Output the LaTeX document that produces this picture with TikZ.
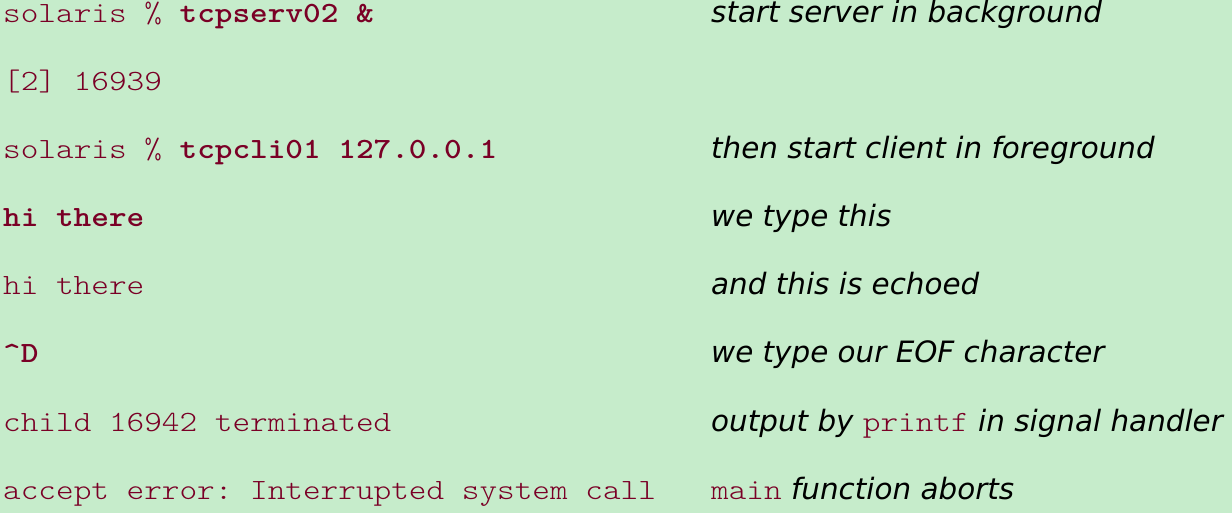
\documentclass[tikz,border=0pt]{standalone}
\usepackage{fontspec}
\setmainfont{DejaVu Sans}
\setmonofont{Latin Modern Mono Light}[FakeStretch=1.143]
\usetikzlibrary{positioning}
\definecolor{termbg}{HTML}{C6ECCB}
\definecolor{termfg}{HTML}{7A0026}
\newcommand{\kw}[1]{{\fontsize{29.4}{30}\upshape\ttfamily\color{termfg}#1}}
\newcommand{\typed}[1]{\textbf{#1}}

\begin{document}
\begin{tikzpicture}[x=1pt,y=1pt,
    term/.style={anchor=base west, inner sep=0pt, font=\fontsize{29.4}{30}\ttfamily, text=termfg},
    note/.style={anchor=base west, inner sep=0pt, font=\fontsize{29.4}{30}\itshape}]
  \fill[termbg] (0,0) rectangle (1232,513);
  % terminal session
  \node[term] (serv)  at (3,490) {solaris \% \typed{tcpserv02 \&}};
  \node[term] (pid)   at (3,422) {[2] 16939};
  \node[term] (cli)   at (3,354) {solaris \% \typed{tcpcli01 127.0.0.1}};
  \node[term] (hi)    at (3,286) {\typed{hi there}};
  \node[term] (echo)  at (3,218) {hi there};
  \node[term] (eof)   at (3,150) {\typed{\textasciicircum D}};
  \node[term] (child) at (3,81)  {child 16942 terminated};
  \node[term] (abort) at (3,13)  {accept error: Interrupted system call};
  % comments
  \node[note] at (711,490) {start server in background};
  \node[note] at (711,354) {then start client in foreground};
  \node[note] at (711,286) {we type this};
  \node[note] at (711,218) {and this is echoed};
  \node[note] at (711,150) {we type our EOF character};
  \node[note] at (711,81)  {output by \kw{printf} in signal handler};
  \node[note] at (711,13)  {\kw{main} function aborts};
\end{tikzpicture}
\end{document}
